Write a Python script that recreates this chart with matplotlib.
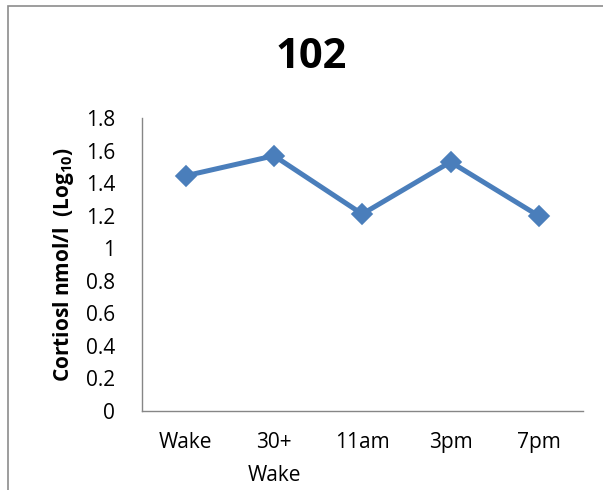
import matplotlib
matplotlib.use("Agg")
import matplotlib.pyplot as plt
from matplotlib.patches import Rectangle

categories = ["Wake", "30+\nWake", "11am", "3pm", "7pm"]
values = [1.445, 1.568, 1.21, 1.53, 1.198]
yticks = [0, 0.2, 0.4, 0.6, 0.8, 1, 1.2, 1.4, 1.6, 1.8]
ytick_labels = ["0", "0.2", "0.4", "0.6", "0.8", "1", "1.2", "1.4", "1.6", "1.8"]

plt.rcParams['font.family'] = ['Open Sans', 'DejaVu Sans']
plt.rcParams['mathtext.default'] = 'regular'

fig = plt.figure(figsize=(6.03, 4.9), dpi=100)
fig.patch.set_facecolor("white")
fig.patches.append(Rectangle((8/603, -0.05), 1.1, (490-6)/490 + 0.05, transform=fig.transFigure,
                             fill=False, edgecolor="#8c8c8c", linewidth=1.2))

ax = fig.add_axes([141.5/603, (490-411)/490, (583-141.5)/603, (411-118)/490])
x = list(range(len(categories)))
ax.plot(x, values, color="#4A7EBB", linewidth=3.6, marker="D", markersize=10,
        markeredgecolor="#4A7EBB", markerfacecolor="#4A7EBB", markeredgewidth=1.2,
        solid_joinstyle="miter")
ax.set_xlim(-0.5, 4.5)
ax.set_ylim(0, 1.8)
ax.set_yticks(yticks)
ax.set_yticklabels(ytick_labels)
ax.set_xticks(x)
ax.set_xticklabels(categories, linespacing=1.75)
ax.tick_params(axis="both", length=0, labelsize=15, colors="black")
ax.tick_params(axis="x", pad=15)
ax.tick_params(axis="y", pad=19)
for s in ["top", "right"]:
    ax.spines[s].set_visible(False)
for s in ["left", "bottom"]:
    ax.spines[s].set_color("#868686")
    ax.spines[s].set_linewidth(1.0)

ax.set_ylabel("Cortiosl nmol/l  (Log$_{10}$)", fontsize=15, fontweight="bold")
ax.yaxis.set_label_coords((63 - 141.5) / (583 - 141.5), 0.5)
ax.yaxis.label.set_va("center")

fig.text(311/603, (490-58)/490, "102", ha="center", va="center", fontsize=30, fontweight="bold")

fig.savefig("out.png", dpi=100)
